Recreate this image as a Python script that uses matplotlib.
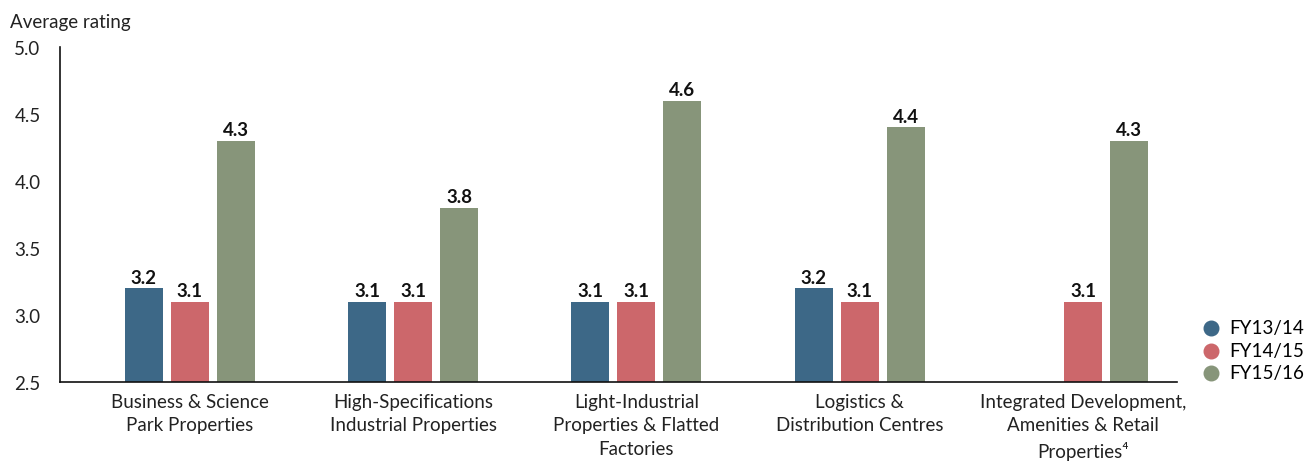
import numpy as np
import matplotlib
matplotlib.use('Agg')
import matplotlib.pyplot as plt

plt.rcParams['font.family'] = ['Lato', 'DejaVu Sans']

categories = ['Business & Science\nPark Properties',
              'High-Specifications\nIndustrial Properties',
              'Light-Industrial\nProperties & Flatted\nFactories',
              'Logistics &\nDistribution Centres',
              'Integrated Development,\nAmenities & Retail\nProperties\u2074']
series = ['FY13/14', 'FY14/15', 'FY15/16']
fy1314 = [3.2, 3.1, 3.1, 3.2, None]
fy1415 = [3.1, 3.1, 3.1, 3.1, 3.1]
fy1516 = [4.3, 3.8, 4.6, 4.4, 4.3]
colors = ['#3d6887', '#cc676b', '#87957a']

fig = plt.figure(figsize=(13.05, 4.64), dpi=100)
ax = fig.add_axes([0.046, 0.1746, 0.856, 0.722])

x = np.arange(len(categories))
width = 0.17
step = 0.206
for i, (vals, col, name) in enumerate(zip([fy1314, fy1415, fy1516], colors, series)):
    pos = x + (i - 1) * step
    for p, v in zip(pos, vals):
        if v is None:
            continue
        ax.bar(p, v - 2.5, width, bottom=2.5, color=col)
        ax.text(p, v + 0.02, f'{v:.1f}', ha='center', va='bottom',
                fontsize=13.5, fontweight='bold', color='#111111')
    ax.scatter([], [], s=110, color=col, label=name)

ax.set_xlim(-0.58, 4.42)
ax.set_ylim(2.5, 5.0)
ax.set_yticks([2.5, 3.0, 3.5, 4.0, 4.5, 5.0])
ax.set_yticklabels(['2.5', '3.0', '3.5', '4.0', '4.5', '5.0'], fontsize=13.5)
ax.set_xticks(x)
ax.set_xticklabels(categories, fontsize=13.5, linespacing=1.45)
ax.tick_params(axis='both', length=0, pad=8, colors='#222222')
ax.tick_params(axis='y', pad=14)
for s in ['top', 'right']:
    ax.spines[s].set_visible(False)
for s in ['left', 'bottom']:
    ax.spines[s].set_linewidth(1.2)
    ax.spines[s].set_color('#111111')

fig.text(0.008, 0.94, 'Average rating', fontsize=13.5, color='#222222')

fig.legend(loc='center left', bbox_to_anchor=(0.922, 0.2435), frameon=False,
           fontsize=13.5, handlelength=0.8, handletextpad=0.6,
           labelspacing=0.3, borderpad=0, borderaxespad=0)

fig.savefig('out.png', dpi=100)
